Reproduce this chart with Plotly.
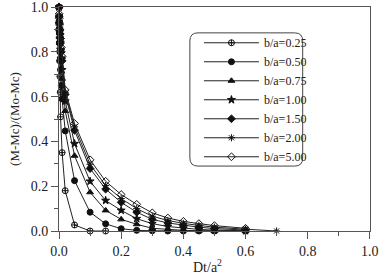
import plotly.graph_objects as go

# ---- data ----
t_025 = [0, 0.0005, 0.001, 0.002, 0.003, 0.004, 0.005, 0.01, 0.02, 0.05, 0.1, 0.15]
m_025 = [1.0, 0.90, 0.84, 0.76, 0.69, 0.62, 0.51, 0.35, 0.18, 0.027, 0.0, 0.0]

t_main = [0, 0.0005, 0.001, 0.002, 0.003, 0.004, 0.005, 0.0075, 0.01, 0.02, 0.05,
          0.1, 0.15, 0.2, 0.25, 0.3, 0.35, 0.4, 0.45, 0.5, 0.6]
m_050 = [1.0, 0.93, 0.89, 0.84, 0.80, 0.76, 0.72, 0.65, 0.59, 0.447, 0.225,
         0.084, 0.032, 0.010, 0.003, 0.001, 0.0, 0.0, 0.0, 0.0, 0.0]
m_075 = [1.0, 0.94, 0.91, 0.87, 0.84, 0.81, 0.78, 0.73, 0.68, 0.536, 0.336,
         0.173, 0.092, 0.052, 0.030, 0.012, 0.006, 0.003, 0.001, 0.0, 0.0]
m_100 = [1.0, 0.95, 0.92, 0.89, 0.86, 0.84, 0.81, 0.77, 0.72, 0.58, 0.39,
         0.222, 0.136, 0.092, 0.055, 0.033, 0.020, 0.012, 0.007, 0.004, 0.001]
m_150 = [1.0, 0.96, 0.93, 0.90, 0.88, 0.86, 0.84, 0.80, 0.76, 0.61, 0.45,
         0.279, 0.187, 0.128, 0.084, 0.052, 0.036, 0.025, 0.017, 0.011, 0.004]
t_200 = t_main + [0.7]
m_200 = [1.0, 0.96, 0.94, 0.91, 0.89, 0.87, 0.85, 0.81, 0.77, 0.62, 0.465,
         0.298, 0.203, 0.145, 0.100, 0.066, 0.047, 0.034, 0.025, 0.017, 0.008, 0.0]
m_500 = [1.0, 0.97, 0.95, 0.92, 0.90, 0.88, 0.86, 0.82, 0.78, 0.63, 0.48,
         0.318, 0.222, 0.163, 0.119, 0.081, 0.058, 0.043, 0.033, 0.024, 0.012]

labels = ["b/a=0.25", "b/a=0.50", "b/a=0.75", "b/a=1.00", "b/a=1.50", "b/a=2.00", "b/a=5.00"]
xs = [t_025, t_main, t_main, t_main, t_main, t_200, t_main]
ys = [m_025, m_050, m_075, m_100, m_150, m_200, m_500]
symbols = ["circle-cross-open", "circle", "triangle-up", "star", "diamond", "asterisk-open", "diamond-open"]
sizes = [6, 6, 6, 6, 6, 6, 6]

x_title = "Dt/a<sup>2</sup>"
y_title = "(M-Mc)/(Mo-Mc)"

FONT = "Liberation Serif"

fig = go.Figure()
for lab, x, y, sym, sz in zip(labels, xs, ys, symbols, sizes):
    fig.add_trace(go.Scatter(
        x=x, y=y, name=lab, mode="lines+markers",
        line=dict(color="#222", width=1),
        marker=dict(symbol=sym, size=sz, color="#111",
                    line=dict(color="#111", width=1)),
        cliponaxis=False,
    ))

# rounded legend frame (in data coordinates)
x0, x1, y0, y1 = 0.421, 0.784, 0.29, 0.885
rx, ry = 0.026, 0.036
path = (f"M {x0+rx},{y1} L {x1-rx},{y1} Q {x1},{y1} {x1},{y1-ry} "
        f"L {x1},{y0+ry} Q {x1},{y0} {x1-rx},{y0} L {x0+rx},{y0} "
        f"Q {x0},{y0} {x0},{y0+ry} L {x0},{y1-ry} Q {x0},{y1} {x0+rx},{y1} Z")
fig.add_shape(type="path", path=path, xref="x", yref="y",
              line=dict(color="#444", width=1), fillcolor="rgba(0,0,0,0)")

axis_common = dict(
    showline=True, linecolor="#555", linewidth=1, mirror=True,
    ticks="outside", ticklen=7, tickcolor="#555", tickwidth=1,
    showgrid=False, zeroline=False, tickformat=".1f", dtick=0.2, tick0=0,
    tickfont=dict(family=FONT, size=14, color="#222"),
    ticklabeloverflow="allow", automargin=False,
    minor=dict(ticks="outside", ticklen=4, tickcolor="#555", dtick=0.1, showgrid=False),
)

fig.update_layout(
    width=382, height=274,
    margin=dict(l=59, r=12, t=7, b=43),
    paper_bgcolor="white", plot_bgcolor="white",
    font=dict(family=FONT, size=12, color="#222"),
    showlegend=True,
    legend=dict(x=0.45, y=0.905, xanchor="left", yanchor="top",
                bgcolor="rgba(0,0,0,0)", borderwidth=0,
                font=dict(family=FONT, size=12, color="#222"),
                itemwidth=55, tracegroupgap=0),
    xaxis=dict(range=[0, 1.0005], **axis_common),
    yaxis=dict(range=[0, 1.0005], title=dict(text=y_title, standoff=8,
               font=dict(family=FONT, size=13)), **axis_common),
    annotations=[dict(text=x_title, xref="paper", yref="paper", x=0.476, y=-0.108,
                      xanchor="center", yanchor="top", showarrow=False,
                      font=dict(family=FONT, size=14, color="#222"))],
)

fig.write_html("out.html")
